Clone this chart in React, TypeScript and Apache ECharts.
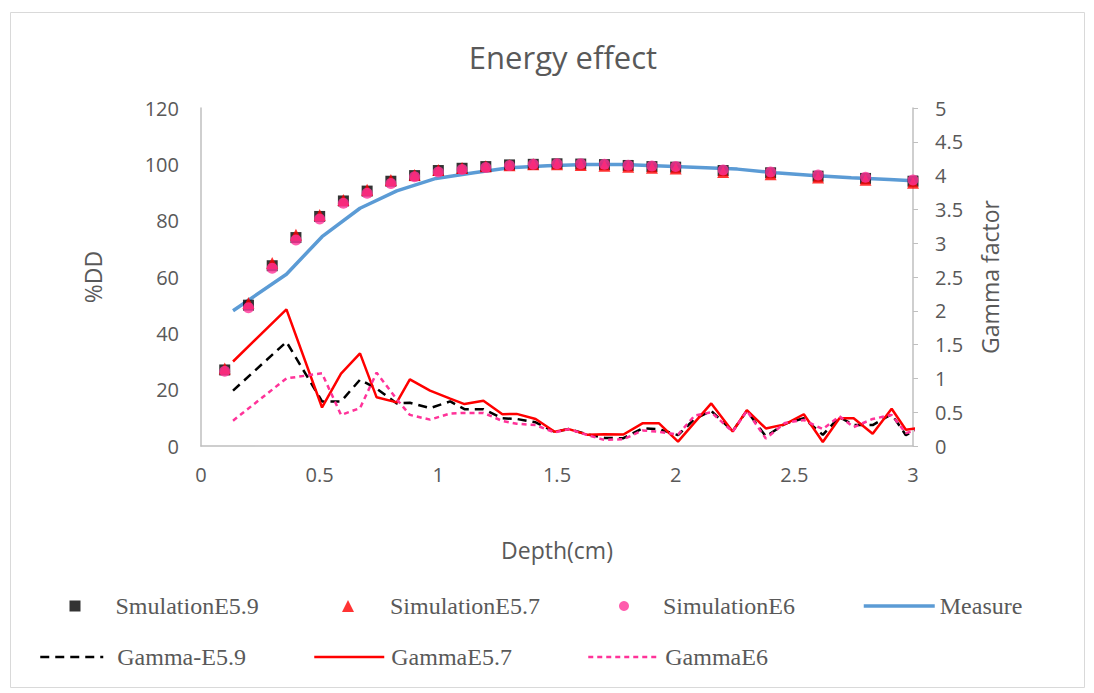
import React, { useEffect, useRef } from "react";
import * as echarts from "echarts";

// Simulation depths (cm)
const simDepth = [0.1, 0.2, 0.3, 0.4, 0.5, 0.6, 0.7, 0.8, 0.9, 1.0, 1.1, 1.2, 1.3, 1.4, 1.5, 1.6, 1.7, 1.8, 1.9, 2.0, 2.2, 2.4, 2.6, 2.8, 3.0];
const simE59 = [27, 50, 64, 74, 81.5, 87, 90.5, 94, 96, 97.8, 98.6, 99.2, 99.8, 100, 100.2, 100.1, 99.9, 99.6, 99.2, 99, 97.8, 97, 95.8, 95, 94];
const simE57 = [27.5, 50.8, 65, 75, 82, 87.3, 91, 94.4, 96.2, 98, 98.7, 99.3, 99.7, 100, 100, 99.8, 99.5, 99.1, 98.8, 98.5, 97.3, 96.5, 95.3, 94.5, 93.5];
const simE6 = [26.5, 49.1, 63.1, 73.1, 80.6, 86.2, 89.7, 93.2, 95.6, 97.3, 98.2, 98.9, 99.6, 100, 100.2, 100.2, 100, 99.7, 99.4, 99.2, 98, 97.3, 96.2, 95.4, 94.4];

// Measured PDD
const measureDepth = [0.135, 0.36, 0.51, 0.67, 0.825, 0.99, 1.15, 1.3, 1.46, 1.62, 1.78, 1.94, 2.1, 2.26, 2.42, 2.58, 2.74, 2.9, 3.0];
const measureDD = [48, 61, 74.3, 84.4, 90.6, 95, 97, 98.8, 99.5, 99.9, 99.9, 99.4, 98.9, 98.3, 97.0, 96.0, 95.2, 94.6, 94.2];

// Gamma factor
const gammaDepth = [0.135, 0.36, 0.51, 0.59, 0.67, 0.74, 0.825, 0.88, 0.965, 1.05, 1.11, 1.19, 1.27, 1.33, 1.41, 1.49, 1.55, 1.63, 1.70, 1.78, 1.86, 1.93, 2.01, 2.08, 2.15, 2.24, 2.30, 2.38, 2.46, 2.54, 2.62, 2.69, 2.75, 2.83, 2.91, 2.97, 3.01];
const gammaE59 = [0.82, 1.54, 0.66, 0.66, 0.98, 0.85, 0.63, 0.64, 0.56, 0.66, 0.545, 0.545, 0.41, 0.40, 0.35, 0.21, 0.25, 0.17, 0.12, 0.115, 0.26, 0.25, 0.16, 0.40, 0.52, 0.22, 0.52, 0.14, 0.33, 0.41, 0.165, 0.43, 0.31, 0.31, 0.47, 0.16, 0.24];
const gammaE57 = [1.25, 2.02, 0.57, 1.07, 1.37, 0.72, 0.645, 0.985, 0.82, 0.70, 0.62, 0.67, 0.47, 0.475, 0.40, 0.21, 0.25, 0.165, 0.175, 0.17, 0.335, 0.335, 0.064, 0.35, 0.63, 0.215, 0.53, 0.26, 0.32, 0.47, 0.06, 0.41, 0.41, 0.18, 0.55, 0.24, 0.26];
const gammaE6 = [0.375, 1.0, 1.075, 0.46, 0.56, 1.085, 0.69, 0.46, 0.39, 0.48, 0.49, 0.49, 0.37, 0.33, 0.31, 0.20, 0.25, 0.16, 0.09, 0.10, 0.23, 0.21, 0.17, 0.45, 0.50, 0.21, 0.52, 0.11, 0.34, 0.385, 0.25, 0.44, 0.28, 0.40, 0.46, 0.19, 0.23];

const xTicks = [0, 0.5, 1, 1.5, 2, 2.5, 3];

const pair = (xs: number[], ys: number[]) => xs.map((x, i) => [x, ys[i]]);

const GRAY = "#595959";
const AXIS = "#bfbfbf";
const SANS = "'Open Sans', 'Noto Sans', sans-serif";
const SERIF = "'Liberation Serif', 'DejaVu Serif', serif";

export default function App() {
  const ref = useRef<HTMLDivElement>(null);
  useEffect(() => {
    if (!ref.current) return;
    const chart = echarts.init(ref.current, null, { renderer: "svg" });
    const legendBase = (top: number, left: number, w: number, h: number, name: string, pad: number, icon?: string, lineW?: number) => {
      const l: any = {
        show: true,
        top,
        left,
        padding: 0,
        itemWidth: w,
        itemHeight: h,
        selectedMode: false,
        data: [icon ? { name, icon } : { name }],
        textStyle: { fontFamily: SERIF, fontSize: 24, color: GRAY, lineHeight: 24, padding: [0, 0, 0, pad] },
      };
      if (!icon) {
        l.itemStyle = { color: "rgba(0,0,0,0)", borderWidth: 0, opacity: 0 };
        l.lineStyle = { width: lineW || 2.5 };
      }
      return l;
    };
    const option: any = {
      animation: false,
      backgroundColor: "#ffffff",
      title: {
        text: "Energy effect",
        left: 558,
        textAlign: "center",
        top: 36,
        textStyle: { fontFamily: SANS, fontSize: 31, fontWeight: "normal", color: GRAY },
      },
      graphic: [
        {
          type: "rect",
          shape: { x: 10.5, y: 12.5, width: 1074, height: 675 },
          style: { fill: "none", stroke: "#d9d9d9", lineWidth: 1 },
          silent: true,
          z: -10,
        },
      ],
      grid: { left: 201, right: 181, top: 108, bottom: 247, containLabel: false },
      xAxis: {
        type: "value",
        min: 0,
        max: 3,
        interval: 0.5,
        name: "Depth(cm)",
        nameLocation: "middle",
        nameGap: 92,
        nameTextStyle: { fontFamily: SANS, fontSize: 23, color: GRAY },
        axisLine: { show: true, lineStyle: { color: AXIS, width: 1.5 } },
        axisTick: { show: false },
        splitLine: { show: false },
        axisLabel: {
          fontFamily: SANS,
          fontSize: 20,
          color: GRAY,
          margin: 18,
          formatter: (v: number) => (xTicks.indexOf(v) >= 0 ? String(v) : ""),
        },
      },
      yAxis: [
        {
          type: "value",
          min: 0,
          max: 120,
          interval: 20,
          name: "%DD",
          nameLocation: "middle",
          nameGap: 97,
          nameRotate: 90,
          nameTextStyle: { fontFamily: SANS, fontSize: 23, color: GRAY },
          axisLine: { show: true, lineStyle: { color: AXIS, width: 1.5 } },
          axisTick: { show: false },
          splitLine: { show: false },
          axisLabel: { fontFamily: SANS, fontSize: 20, color: GRAY, margin: 22 },
        },
        {
          type: "value",
          min: 0,
          max: 5,
          interval: 0.5,
          position: "right",
          name: "Gamma factor",
          nameLocation: "middle",
          nameGap: 65,
          nameRotate: 90,
          nameTextStyle: { fontFamily: SANS, fontSize: 23, color: GRAY },
          axisLine: { show: true, lineStyle: { color: AXIS, width: 1.5 } },
          axisTick: { show: true, length: 5, lineStyle: { color: AXIS } },
          splitLine: { show: false },
          axisLabel: { fontFamily: SANS, fontSize: 20, color: GRAY, margin: 22 },
        },
      ],
      legend: [
        legendBase(594, 69.5, 11, 11, "SmulationE5.9", 30, "rect"),
        legendBase(594, 342, 12, 12, "SimulationE5.7", 31, "triangle"),
        legendBase(594, 619, 10, 11, "SimulationE6", 29, "circle"),
        legendBase(594, 862, 71, 14, "Measure", 0, undefined, 3.5),
        legendBase(645, 39, 63, 14, "Gamma-E5.9", 9, undefined, 2.5),
        legendBase(645, 313, 70, 14, "GammaE5.7", 2, undefined, 2.5),
        legendBase(645, 587, 69, 14, "GammaE6", 3, undefined, 2.5),
      ],
      series: [
        {
          name: "Measure",
          type: "line",
          yAxisIndex: 0,
          data: pair(measureDepth, measureDD),
          symbol: "none",
          lineStyle: { color: "#5b9bd5", width: 3.5 },
          itemStyle: { color: "#5b9bd5" },
          z: 2,
        },
        {
          name: "Gamma-E5.9",
          type: "line",
          yAxisIndex: 1,
          data: pair(gammaDepth, gammaE59),
          symbol: "none",
          lineStyle: { color: "#000000", width: 2.5, type: [9, 6] },
          itemStyle: { color: "#000000" },
          z: 2,
        },
        {
          name: "GammaE5.7",
          type: "line",
          yAxisIndex: 1,
          data: pair(gammaDepth, gammaE57),
          symbol: "none",
          lineStyle: { color: "#ff0000", width: 2.5 },
          itemStyle: { color: "#ff0000" },
          z: 2,
        },
        {
          name: "GammaE6",
          type: "line",
          yAxisIndex: 1,
          data: pair(gammaDepth, gammaE6),
          symbol: "none",
          lineStyle: { color: "#ff3399", width: 2.5, type: [5, 4] },
          itemStyle: { color: "#ff3399" },
          z: 2,
        },
        {
          name: "SmulationE5.9",
          type: "scatter",
          yAxisIndex: 0,
          data: pair(simDepth, simE59),
          symbol: "rect",
          symbolSize: 11,
          itemStyle: { color: "#000000" },
          z: 3,
        },
        {
          name: "SimulationE5.7",
          type: "scatter",
          yAxisIndex: 0,
          data: pair(simDepth, simE57),
          symbol: "triangle",
          symbolSize: 12,
          itemStyle: { color: "#ff0000" },
          z: 4,
        },
        {
          name: "SimulationE6",
          type: "scatter",
          yAxisIndex: 0,
          data: pair(simDepth, simE6),
          symbol: "circle",
          symbolSize: 11,
          itemStyle: { color: "#ff3399" },
          z: 5,
        },
      ],
    };
    chart.setOption(option);
    return () => chart.dispose();
  }, []);
  return <div ref={ref} style={{ position: "absolute", left: 0, top: 0, width: 1094, height: 693 }} />;
}
